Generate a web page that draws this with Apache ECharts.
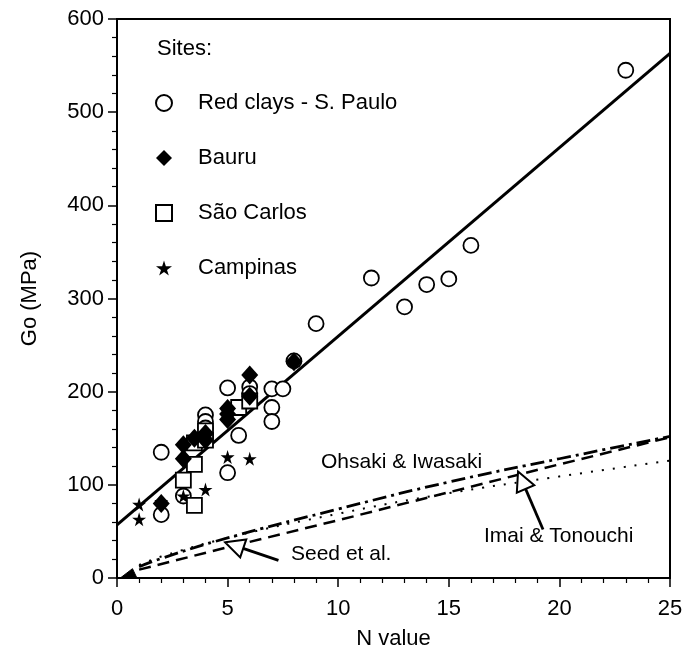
<!DOCTYPE html>
<html>
<head>
<meta charset="utf-8">
<script src="https://cdn.jsdelivr.net/npm/echarts@6/dist/echarts.min.js"></script>
<style>
html,body{margin:0;padding:0;background:#fff;}
#c{width:697px;height:657px;}
</style>
</head>
<body>
<div id="c"></div>
<script>
// ---- data ----
const siteNames = ['Red clays - S. Paulo', 'Bauru', 'São Carlos', 'Campinas'];

const redN = [2, 2, 3, 4, 4, 4, 5, 5, 5.5, 6, 6, 7, 7.5, 7, 7, 8, 9, 11.5, 13, 14, 15, 16, 23];
const redG = [135, 68, 88, 175, 168, 161, 204, 113, 153, 205, 198, 203, 203, 183, 168, 233, 273, 322, 291, 315, 321, 357, 545];

const bauruN = [2, 3, 3, 3.5, 4, 4, 5, 5, 5, 6, 6, 8];
const bauruG = [80, 143, 128, 150, 155, 148, 182, 170, 176, 218, 195, 232];

const carlosN = [3.5, 3, 3.5, 3.5, 4, 5.5, 6, 4];
const carlosG = [78, 105, 122, 145, 158, 183, 190, 148];

const campN = [1, 1, 2, 3, 4, 5, 6];
const campG = [79, 63, 82, 88, 95, 130, 128];

const fitN = [0, 25];
const fitG = [57, 563];

const ohsakiN = [1, 2, 5, 10, 15, 20, 25];
const ohsakiG = [12, 21, 43, 74, 103, 128, 152];

const seedN = [1, 5, 10, 15, 20, 25];
const seedG = [9, 33, 62, 92, 122, 151];

const imaiN = [1, 2, 5, 10, 15, 20, 25];
const imaiG = [14, 23, 43, 69, 91, 109, 126];

const wedgeN = [0.15, 0.7, 0.9];
const wedgeG = [0, 10, 0];

const seedArrow = [[7.3, 19], [5.3, 35]];
const imaiArrow = [[19.26, 52], [18.3, 105]];

const xTicks = {min: 0, max: 25, step: 5};
const yTicks = {min: 0, max: 600, step: 100};

// ---- build ----
const zip = (a, b) => a.map((v, i) => [v, b[i]]);
const FONT = '"Liberation Sans", Arial, sans-serif';
const starPath = 'path://M50,0 L61,35 L98,35 L68,57 L79,91 L50,70 L21,91 L32,57 L2,35 L39,35 Z';

const chart = echarts.init(document.getElementById('c'), null, {renderer: 'canvas'});

const axisCommon = {
  type: 'value',
  axisLine: {show: true, onZero: false, lineStyle: {color: '#000', width: 2}},
  axisTick: {show: true, inside: false, length: 9, lineStyle: {color: '#000', width: 1.5}},
  minorTick: {show: true, splitNumber: 5, length: 5, lineStyle: {color: '#000', width: 1.2}},
  splitLine: {show: false},
  axisLabel: {color: '#000', fontSize: 22, fontFamily: FONT},
  nameTextStyle: {color: '#000', fontSize: 22, fontFamily: FONT},
  nameLocation: 'middle'
};

const option = {
  animation: false,
  backgroundColor: '#fff',
  grid: {left: 117, right: 27, top: 19, bottom: 79, show: true, borderColor: '#000', borderWidth: 2, backgroundColor: 'transparent'},
  xAxis: Object.assign({}, axisCommon, {
    min: xTicks.min, max: xTicks.max, interval: xTicks.step,
    name: 'N value', nameGap: 50,
    axisLabel: Object.assign({}, axisCommon.axisLabel, {margin: 20})
  }),
  yAxis: Object.assign({}, axisCommon, {
    min: yTicks.min, max: yTicks.max, interval: yTicks.step,
    name: 'Go (MPa)', nameGap: 76,
    axisLabel: Object.assign({}, axisCommon.axisLabel, {margin: 13})
  }),
  legend: {
    data: siteNames,
    orient: 'vertical',
    left: 150, top: 87,
    itemWidth: 16, itemHeight: 16,
    itemGap: 33,
    textStyle: {color: '#000', fontSize: 22, fontFamily: FONT, lineHeight: 22, rich: {g: {width: 21}}},
    formatter: n => '{g|}' + n,
    selectedMode: false
  },
  graphic: [
    {type: 'text', left: 157, top: 38, style: {text: 'Sites:', fontSize: 22, fontFamily: FONT, fill: '#000'}},
    {type: 'text', left: 321, top: 452, style: {text: 'Ohsaki & Iwasaki', fontSize: 21, fontFamily: FONT, fill: '#000'}},
    {type: 'text', left: 484, top: 526, style: {text: 'Imai & Tonouchi', fontSize: 21, fontFamily: FONT, fill: '#000'}},
    {type: 'text', left: 291, top: 544, style: {text: 'Seed et al.', fontSize: 21, fontFamily: FONT, fill: '#000'}}
  ],
  series: [
    {name: 'fit', type: 'line', data: zip(fitN, fitG), symbol: 'none', lineStyle: {color: '#000', width: 3}, z: 3},
    {name: 'Ohsaki & Iwasaki', type: 'line', data: zip(ohsakiN, ohsakiG), symbol: 'none', smooth: true,
      lineStyle: {color: '#000', width: 2.8, type: [14, 5, 3, 5]}, z: 2},
    {name: 'Seed et al.', type: 'line', data: zip(seedN, seedG), symbol: 'none',
      lineStyle: {color: '#000', width: 2.5, type: [12, 7]}, z: 2},
    {name: 'Imai & Tonouchi', type: 'line', data: zip(imaiN, imaiG), symbol: 'none', smooth: true,
      lineStyle: {color: '#000', width: 2, type: [2, 9]}, z: 2},
    {name: 'wedge', type: 'line', data: zip(wedgeN, wedgeG), symbol: 'none',
      lineStyle: {color: '#000', width: 1}, areaStyle: {color: '#000', opacity: 1}, z: 2},
    {name: 'arrows', type: 'lines', coordinateSystem: 'cartesian2d',
      symbol: ['none', 'emptyTriangle'], symbolSize: [13, 19],
      lineStyle: {color: '#000', width: 2.8, curveness: 0, opacity: 1},
      data: [{coords: seedArrow}, {coords: imaiArrow}], z: 4},
    {name: siteNames[0], type: 'scatter', data: zip(redN, redG), symbol: 'circle', symbolSize: 15,
      itemStyle: {color: '#fff', borderColor: '#000', borderWidth: 1.8, opacity: 1}, z: 5},
    {name: siteNames[1], type: 'scatter', data: zip(bauruN, bauruG), symbol: 'diamond', symbolSize: [17, 19],
      itemStyle: {color: '#000', borderColor: '#000', borderWidth: 0, opacity: 1}, z: 6},
    {name: siteNames[2], type: 'scatter', data: zip(carlosN, carlosG), symbol: 'rect', symbolSize: 15,
      itemStyle: {color: '#fff', borderColor: '#000', borderWidth: 1.8, opacity: 1}, z: 5},
    {name: siteNames[3], type: 'scatter', data: zip(campN, campG), symbol: starPath, symbolSize: 14,
      itemStyle: {color: '#000', opacity: 1}, z: 7}
  ]
};
chart.setOption(option);
</script>
</body>
</html>
